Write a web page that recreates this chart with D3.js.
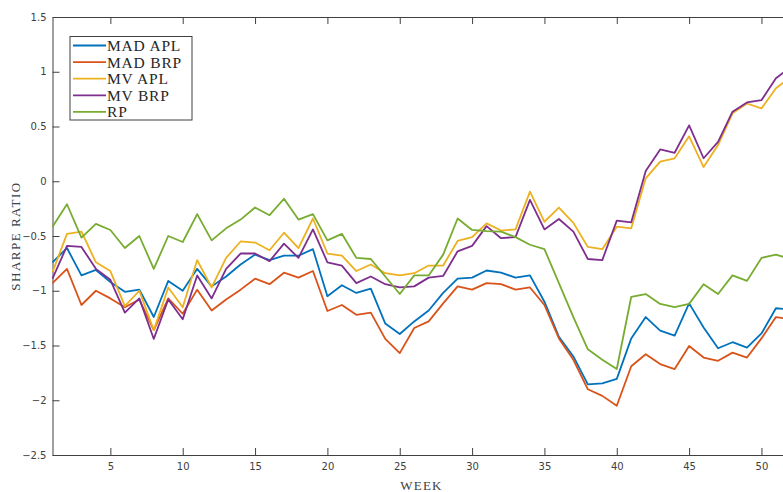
<!DOCTYPE html>
<html>
<head>
<meta charset="utf-8">
<script src="https://cdn.jsdelivr.net/npm/d3@7"></script>
<style>
  body { margin: 0; background: #fff; }
  .axis text { font-family: 'DejaVu Sans', sans-serif; font-size: 10px; fill: #404040; }
  .axis path, .axis line { stroke: #404040; }
</style>
</head>
<body>
<div id="chart"></div>
<script>
const weeks = d3.range(1, 53)

const madApl = [-0.74, -0.61, -0.86, -0.81, -0.92, -1.01, -0.99, -1.24, -0.91, -1.00, -0.80, -0.96, -0.87, -0.76, -0.67, -0.72, -0.68, -0.68, -0.62, -1.05,
  -0.95, -1.02, -0.98, -1.30, -1.395, -1.28, -1.18, -1.02, -0.89, -0.88, -0.815, -0.835, -0.88, -0.86, -1.10, -1.42, -1.60, -1.855, -1.845, -1.805,
  -1.435, -1.24, -1.365, -1.41, -1.115, -1.335, -1.525, -1.47, -1.52, -1.39, -1.16, -1.17]
const madBrp = [-0.93, -0.80, -1.13, -1.00, -1.07, -1.15, -1.08, -1.36, -1.07, -1.21, -0.99, -1.18, -1.08, -0.99, -0.89, -0.94, -0.835, -0.88, -0.82, -1.185,
  -1.13, -1.22, -1.20, -1.44, -1.57, -1.34, -1.28, -1.115, -0.96, -0.99, -0.93, -0.94, -0.99, -0.97, -1.13, -1.435, -1.63, -1.90, -1.96, -2.05,
  -1.69, -1.58, -1.67, -1.715, -1.505, -1.61, -1.64, -1.565, -1.61, -1.435, -1.24, -1.26]
const mvApl = [-0.83, -0.48, -0.46, -0.74, -0.82, -1.14, -1.00, -1.36, -0.97, -1.15, -0.72, -0.97, -0.70, -0.55, -0.56, -0.63, -0.47, -0.61, -0.34, -0.66,
  -0.68, -0.82, -0.76, -0.84, -0.86, -0.84, -0.77, -0.77, -0.545, -0.51, -0.385, -0.45, -0.44, -0.095, -0.37, -0.24, -0.38, -0.60, -0.62, -0.415,
  -0.43, 0.027, 0.18, 0.21, 0.41, 0.13, 0.33, 0.62, 0.71, 0.665, 0.85, 0.95]
const mvBrp = [-0.89, -0.59, -0.60, -0.80, -0.90, -1.20, -1.07, -1.44, -1.08, -1.26, -0.86, -1.07, -0.80, -0.66, -0.66, -0.73, -0.57, -0.70, -0.44, -0.74,
  -0.77, -0.93, -0.87, -0.94, -0.97, -0.96, -0.88, -0.865, -0.64, -0.59, -0.41, -0.52, -0.51, -0.17, -0.44, -0.345, -0.46, -0.71, -0.72, -0.36,
  -0.375, 0.094, 0.29, 0.26, 0.51, 0.21, 0.36, 0.635, 0.72, 0.74, 0.94, 1.04]
const rp = [-0.415, -0.21, -0.515, -0.39, -0.445, -0.61, -0.50, -0.80, -0.50, -0.555, -0.30, -0.54, -0.43, -0.35, -0.24, -0.31, -0.16, -0.35, -0.30, -0.54,
  -0.48, -0.70, -0.71, -0.87, -1.03, -0.86, -0.86, -0.67, -0.34, -0.445, -0.455, -0.46, -0.51, -0.58, -0.62, -0.93, -1.24, -1.535, -1.63, -1.715,
  -1.055, -1.03, -1.12, -1.15, -1.12, -0.94, -1.03, -0.86, -0.91, -0.70, -0.67, -0.71]

const seriesNames = ['MAD APL', 'MAD BRP', 'MV APL', 'MV BRP', 'RP']
const seriesValues = [madApl, madBrp, mvApl, mvBrp, rp]
const colors = ['#0072BD', '#D95319', '#EDB120', '#7E2F8E', '#77AC30']

const xTicks = [5, 10, 15, 20, 25, 30, 35, 40, 45, 50]
const yTicks = [-2.5, -2, -1.5, -1, -0.5, 0, 0.5, 1, 1.5]

const width = 783
const height = 492
const margin = { left: 52.5, right: 790.4, top: 17, bottom: 455 }

const x = d3.scaleLinear()
  .domain([1, 52])
  .range([margin.left, margin.right])

const y = d3.scaleLinear()
  .domain([-2.5, 1.5])
  .range([margin.bottom, margin.top])

const svg = d3.select('#chart').append('svg')
  .attr('width', width)
  .attr('height', height)

// box axes, ticks pointing inward like matlab
svg.append('g')
  .attr('class', 'axis')
  .attr('transform', `translate(0,${margin.bottom})`)
  .call(d3.axisBottom(x).tickValues(xTicks).tickSizeInner(-7).tickSizeOuter(0).tickPadding(8))

svg.append('g')
  .attr('class', 'axis')
  .attr('transform', `translate(0,${margin.top})`)
  .call(d3.axisTop(x).tickValues(xTicks).tickSizeInner(-7).tickSizeOuter(0).tickFormat(''))

svg.append('g')
  .attr('class', 'axis')
  .attr('transform', `translate(${margin.left},0)`)
  .call(d3.axisLeft(y).tickValues(yTicks).tickSizeInner(-7).tickSizeOuter(0).tickPadding(6).tickFormat(d3.format('')))

svg.append('g')
  .attr('class', 'axis')
  .attr('transform', `translate(${margin.right},0)`)
  .call(d3.axisRight(y).tickValues(yTicks).tickSizeInner(-7).tickSizeOuter(0).tickFormat(''))

const line = d3.line()
  .x((d, i) => x(weeks[i]))
  .y(d => y(d))

svg.selectAll('.series')
  .data(seriesValues)
  .enter()
  .append('path')
  .attr('class', 'series')
  .attr('fill', 'none')
  .attr('stroke', (d, i) => colors[i])
  .attr('stroke-width', 1.8)
  .attr('stroke-linejoin', 'round')
  .attr('d', line)

// axis labels
svg.append('text')
  .attr('x', (margin.left + margin.right) / 2)
  .attr('y', 490)
  .attr('text-anchor', 'middle')
  .attr('font-family', 'Liberation Serif, serif')
  .attr('font-size', 13)
  .attr('letter-spacing', 1.2)
  .attr('fill', '#404040')
  .text('WEEK')

svg.append('text')
  .attr('transform', `translate(20,${(margin.top + margin.bottom) / 2}) rotate(-90)`)
  .attr('text-anchor', 'middle')
  .attr('font-family', 'Liberation Serif, serif')
  .attr('font-size', 13)
  .attr('letter-spacing', 1.5)
  .attr('fill', '#404040')
  .text('SHARPE RATIO')

// legend
const legend = svg.append('g')
  .attr('transform', 'translate(70,36.5)')

legend.append('rect')
  .attr('width', 122)
  .attr('height', 83.5)
  .attr('fill', '#fff')
  .attr('stroke', '#404040')
  .attr('stroke-width', 1)

const item = legend.selectAll('.item')
  .data(seriesNames)
  .enter()
  .append('g')
  .attr('transform', (d, i) => `translate(0,${9 + i * 16.6})`)

item.append('line')
  .attr('x1', 3)
  .attr('x2', 36)
  .attr('stroke', (d, i) => colors[i])
  .attr('stroke-width', 1.8)

item.append('text')
  .attr('x', 37)
  .attr('y', 5.5)
  .attr('font-family', 'Liberation Serif, serif')
  .attr('font-size', 15.5)
  .attr('letter-spacing', 0.8)
  .attr('fill', '#262626')
  .text(d => d)
</script>
</body>
</html>
